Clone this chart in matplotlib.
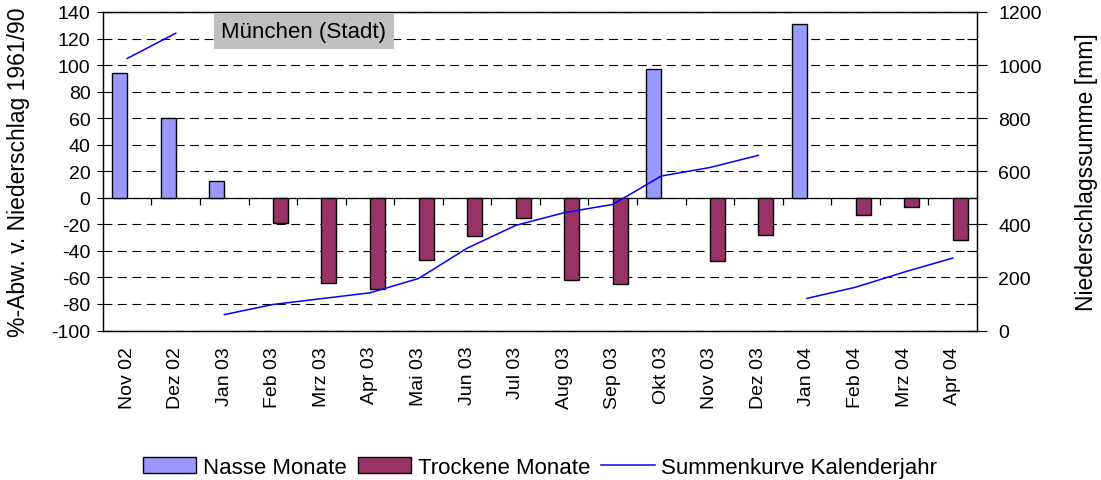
import numpy as np
import matplotlib
matplotlib.use("Agg")
import matplotlib.pyplot as plt

plt.rcParams['font.family'] = ['Liberation Sans', 'DejaVu Sans']
plt.rcParams['axes.unicode_minus'] = False

# Daten
monate = ['Nov 02', 'Dez 02', 'Jan 03', 'Feb 03', 'Mrz 03', 'Apr 03', 'Mai 03', 'Jun 03', 'Jul 03',
          'Aug 03', 'Sep 03', 'Okt 03', 'Nov 03', 'Dez 03', 'Jan 04', 'Feb 04', 'Mrz 04', 'Apr 04']
abweichung = [94, 60, 13, -19, -64, -69, -47, -29, -15, -62, -65, 97, -48, -28, 131, -13, -7, -32]
summe = [1025, 1120, 60, 98, 120, 142, 196, 310, 396, 444, 475, 582, 614, 660, 121, 163, 220, 273]

FARBE_NASS = '#9999FF'
FARBE_TROCKEN = '#993366'
BAR_W = 0.31

fig = plt.figure(figsize=(11.01, 4.81), dpi=100)
ax = fig.add_axes([0.0935, 0.3108, 0.7938, 0.6622])

x = np.arange(len(monate))
abw = np.array(abweichung, dtype=float)
nass = np.where(abw > 0, abw, np.nan)
trocken = np.where(abw < 0, abw, np.nan)

# nasse Balken links von der Kategoriemitte, trockene rechts davon
b1 = ax.bar(x - BAR_W, nass, width=BAR_W, align='edge', color=FARBE_NASS, edgecolor='black',
            linewidth=1.0, label='Nasse Monate', zorder=3)
b2 = ax.bar(x, trocken, width=BAR_W, align='edge', color=FARBE_TROCKEN, edgecolor='black',
            linewidth=1.0, label='Trockene Monate', zorder=3)

ax.set_xlim(-0.5, len(monate) - 0.5)
ax.set_ylim(-100, 140)
ax.set_yticks(np.arange(-100, 141, 20))
ax.set_xticks(x)
ax.set_xticklabels(monate, rotation=90, fontsize=14)
ax.tick_params(axis='x', length=0, pad=11)
ax.tick_params(axis='y', direction='out', length=4, width=0.8, pad=5, labelsize=14)
ax.yaxis.grid(True, color='black', linestyle=(0, (8, 5)), linewidth=0.8)
ax.set_axisbelow(True)
for s in ax.spines.values():
    s.set_linewidth(0.9)
ax.set_ylabel('%-Abw. v. Niederschlag 1961/90', fontsize=16.5, labelpad=15)

# Nulllinie mit Kategorie-Trennstrichen
sec = ax.secondary_xaxis(100 / 240)
sec.set_xticks(np.arange(0.5, len(monate) - 1, 1))
sec.set_xticklabels([])
sec.tick_params(direction='out', length=5, width=0.9)
sec.spines['bottom'].set_linewidth(0.9)

# Summenkurve je Kalenderjahr
ax2 = ax.twinx()
jahre = [m.split()[1] for m in monate]
summe_arr = np.array(summe, dtype=float)
linie = None
for j in dict.fromkeys(jahre):
    idx = [i for i, jj in enumerate(jahre) if jj == j]
    linie, = ax2.plot(x[idx], summe_arr[idx], color='#0000FF', linewidth=1.1,
                      label='Summenkurve Kalenderjahr')
ax2.set_ylim(0, 1200)
ax2.set_yticks(np.arange(0, 1201, 200))
ax2.set_yticks(np.arange(100, 1200, 200), minor=True)
ax2.tick_params(axis='y', which='major', direction='inout', length=15, width=0.8, pad=8, labelsize=14)
ax2.tick_params(axis='y', which='minor', direction='in', length=7, width=0.8)
for s in ax2.spines.values():
    s.set_linewidth(0.9)
ax2.set_ylabel('Niederschlagssumme [mm]', fontsize=16.5, labelpad=24)

ax2.text(0.230, 0.940, 'München (Stadt)', transform=ax2.transAxes, ha='center', va='center',
         fontsize=16, zorder=10,
         bbox=dict(facecolor='#C0C0C0', edgecolor='none', boxstyle='square,pad=0.35'))

fig.legend([b1, b2, linie], ['Nasse Monate', 'Trockene Monate', 'Summenkurve Kalenderjahr'],
           loc='center', bbox_to_anchor=(0.4905, 0.027), ncol=3, frameon=False,
           fontsize=16, handlelength=2.4, handletextpad=0.3, columnspacing=0.5)

fig.savefig('out.png', dpi=100)
